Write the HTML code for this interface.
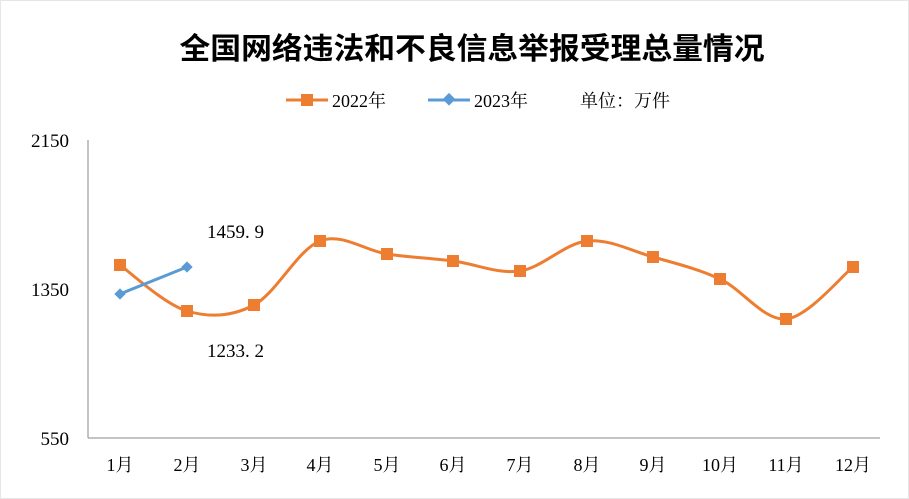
<!DOCTYPE html>
<html><head><meta charset="utf-8"><style>
body{margin:0;background:#fff}
svg{display:block}
</style></head><body>
<svg width="909" height="499" viewBox="0 0 909 499" xmlns="http://www.w3.org/2000/svg">
<rect x="0.5" y="0.5" width="908" height="498" fill="#fff" stroke="#e6e6e6"/>
<text x="472" y="59" text-anchor="middle" font-family="'Liberation Sans','Noto Sans CJK SC',sans-serif" font-size="30" font-weight="bold" fill="#000" textLength="585" lengthAdjust="spacingAndGlyphs">全国网络违法和不良信息举报受理总量情况</text>
<g font-family="'Liberation Serif','Noto Serif CJK SC',serif" font-size="18" fill="#000">
<line x1="286" y1="100" x2="328" y2="100" stroke="#ED7D31" stroke-width="3"/>
<rect x="301" y="94" width="12" height="12" fill="#ED7D31"/>
<text x="332" y="107">2022年</text>
<line x1="428" y1="100" x2="470" y2="100" stroke="#5B9BD5" stroke-width="3"/>
<rect x="444" y="95" width="9" height="9" fill="#5B9BD5" transform="rotate(45 449 100)"/>
<text x="474" y="107">2023年</text>
<text x="580" y="107">单位：万件</text>
</g>
<line x1="88" y1="140" x2="88" y2="438" stroke="#888" stroke-width="1"/>
<line x1="88" y1="438" x2="880" y2="438" stroke="#888" stroke-width="1"/>
<g font-family="'Liberation Serif',serif" font-size="19" fill="#000" text-anchor="end">
<text x="69" y="147">2150</text>
<text x="69" y="296">1350</text>
<text x="69" y="445">550</text>
</g>
<g font-family="'Liberation Serif','Noto Serif CJK SC',serif" font-size="18" fill="#000" text-anchor="middle">
<text x="120" y="471">1月</text><text x="187" y="471">2月</text><text x="254" y="471">3月</text><text x="320" y="471">4月</text><text x="387" y="471">5月</text><text x="453" y="471">6月</text><text x="520" y="471">7月</text><text x="587" y="471">8月</text><text x="653" y="471">9月</text><text x="720" y="471">10月</text><text x="786" y="471">11月</text><text x="853" y="471">12月</text>
</g>
<path d="M120,265 C131,273 164.7,304.3 187,311 C209.3,317.7 231.8,316.7 254,305 C276.2,293.3 297.8,249.5 320,241 C342.2,232.5 364.8,250.7 387,254 C409.2,257.3 430.8,258.2 453,261 C475.2,263.8 497.7,274.3 520,271 C542.3,267.7 564.8,243.3 587,241 C609.2,238.7 630.8,250.7 653,257 C675.2,263.3 697.8,268.7 720,279 C742.2,289.3 763.8,321 786,319 C808.2,317 841.8,275.7 853,267" fill="none" stroke="#ED7D31" stroke-width="3"/>
<g fill="#ED7D31">
<rect x="114" y="259" width="12" height="12"/><rect x="181" y="305" width="12" height="12"/><rect x="248" y="299" width="12" height="12"/><rect x="314" y="235" width="12" height="12"/><rect x="381" y="248" width="12" height="12"/><rect x="447" y="255" width="12" height="12"/><rect x="514" y="265" width="12" height="12"/><rect x="581" y="235" width="12" height="12"/><rect x="647" y="251" width="12" height="12"/><rect x="714" y="273" width="12" height="12"/><rect x="780" y="313" width="12" height="12"/><rect x="847" y="261" width="12" height="12"/>
</g>
<line x1="120" y1="294" x2="187" y2="267" stroke="#5B9BD5" stroke-width="3"/>
<g fill="#5B9BD5">
<rect x="116" y="290" width="8" height="8" transform="rotate(45 120 294)"/>
<rect x="183" y="263" width="8" height="8" transform="rotate(45 187 267)"/>
</g>
<g font-family="'Liberation Serif',serif" font-size="19" fill="#000">
<text x="207" y="238">1459. 9</text>
<text x="207" y="357">1233. 2</text>
</g>
</svg>
</body></html>
